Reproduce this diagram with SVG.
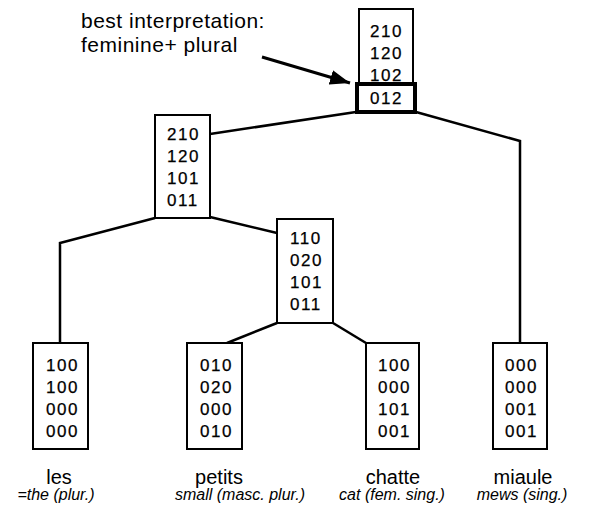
<svg xmlns="http://www.w3.org/2000/svg" width="590" height="516" viewBox="0 0 590 516">
<defs>
<style>
.box{fill:#fff;stroke:#000;stroke-width:2}
.thick{fill:none;stroke:#000;stroke-width:4}
.num{font-family:"Liberation Sans",Arial,sans-serif;font-size:17px;letter-spacing:1.6px;fill:#000;stroke:#000;stroke-width:0.25}
.lbl{font-family:"Liberation Sans",Arial,sans-serif;font-size:21px;letter-spacing:0.5px;fill:#000}
.word{font-family:"Liberation Sans",Arial,sans-serif;font-size:20px;fill:#000;text-anchor:middle}
.gloss{font-family:"Liberation Sans",Arial,sans-serif;font-size:16px;font-style:italic;fill:#000;text-anchor:middle}
.conn{fill:none;stroke:#000;stroke-width:2.5;stroke-linejoin:miter}
</style>
<marker id="ah" viewBox="0 0 10 10" refX="10" refY="5" markerWidth="20" markerHeight="15" markerUnits="userSpaceOnUse" orient="auto" preserveAspectRatio="none">
<path d="M0,0 L10,5 L0,10 z" fill="#000"/>
</marker>
</defs>
<rect width="590" height="516" fill="#fff"/>

<g id="connectors">
<polyline class="conn" points="210,134 356,112"/>
<polyline class="conn" points="416,112 520,141 520,343"/>
<polyline class="conn" points="155,218 60,243 60,343"/>
<polyline class="conn" points="210,217 277,233"/>
<polyline class="conn" points="277,323 227,343"/>
<polyline class="conn" points="333,323 366,343"/>
<line x1="262" y1="57" x2="350" y2="83" stroke="#000" stroke-width="3" marker-end="url(#ah)"/>
</g>

<g id="annotation">
<text class="lbl" x="81" y="28">best interpretation:</text>
<text class="lbl" x="81" y="52">feminine+ plural</text>
</g>

<g id="root">
<rect class="box" x="359" y="9" width="54" height="76"/>
<text class="num" x="370" y="37">210</text>
<text class="num" x="370" y="59">120</text>
<text class="num" x="370" y="81">102</text>
<rect class="thick" x="357" y="84" width="58" height="28"/>
<text class="num" x="370" y="104">012</text>
</g>

<g id="node-left">
<rect class="box" x="155" y="115" width="55" height="103"/>
<text class="num" x="167" y="140">210</text>
<text class="num" x="167" y="162">120</text>
<text class="num" x="167" y="184">101</text>
<text class="num" x="167" y="206">011</text>
</g>

<g id="node-mid">
<rect class="box" x="277" y="219" width="56" height="104"/>
<text class="num" x="290" y="244">110</text>
<text class="num" x="290" y="266">020</text>
<text class="num" x="290" y="288">101</text>
<text class="num" x="290" y="310">011</text>
</g>

<g id="leaf-les">
<rect class="box" x="33" y="343" width="55" height="106"/>
<text class="num" x="46" y="371">100</text>
<text class="num" x="46" y="393">100</text>
<text class="num" x="46" y="415">000</text>
<text class="num" x="46" y="437">000</text>
<text class="word" x="59" y="484">les</text>
<text class="gloss" x="56" y="500">=the (plur.)</text>
</g>

<g id="leaf-petits">
<rect class="box" x="187" y="343" width="55" height="106"/>
<text class="num" x="200" y="371">010</text>
<text class="num" x="200" y="393">020</text>
<text class="num" x="200" y="415">000</text>
<text class="num" x="200" y="437">010</text>
<text class="word" x="219" y="484">petits</text>
<text class="gloss" x="240" y="500">small (masc. plur.)</text>
</g>

<g id="leaf-chatte">
<rect class="box" x="366" y="343" width="53" height="106"/>
<text class="num" x="378" y="371">100</text>
<text class="num" x="378" y="393">000</text>
<text class="num" x="378" y="415">101</text>
<text class="num" x="378" y="437">001</text>
<text class="word" x="393" y="484">chatte</text>
<text class="gloss" x="392" y="500">cat (fem. sing.)</text>
</g>

<g id="leaf-miaule">
<rect class="box" x="493" y="343" width="54" height="106"/>
<text class="num" x="505" y="371">000</text>
<text class="num" x="505" y="393">000</text>
<text class="num" x="505" y="415">001</text>
<text class="num" x="505" y="437">001</text>
<text class="word" x="523" y="484">miaule</text>
<text class="gloss" x="522" y="500">mews (sing.)</text>
</g>
</svg>
